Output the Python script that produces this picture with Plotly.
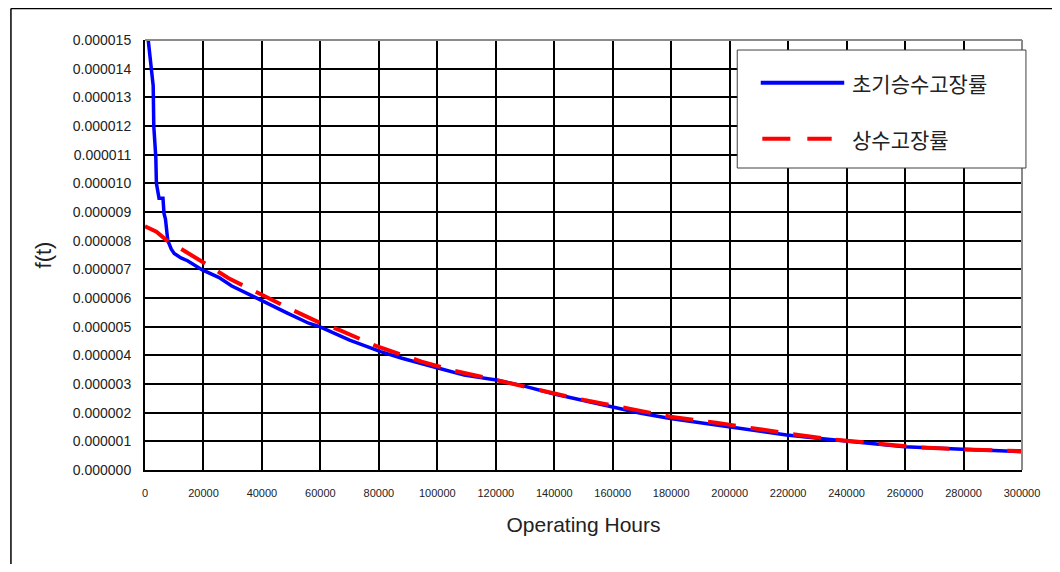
import plotly.graph_objects as go

# ---- data ----
hours_initial = [1100, 1900, 2800, 3000, 3700, 3900, 4500, 4800, 6150, 6500, 7000, 7800,
                 9000, 10000, 12300, 14550, 19600, 25200, 29700, 35300, 40000, 48700,
                 56000, 59700, 70000, 80600, 87900, 100500, 109200, 120200, 130400,
                 140000, 149500, 159900, 169600, 179700, 189800, 199700, 202100, 206600,
                 219500, 230100, 240000, 259800, 279700, 300000]
ft_initial = [15.0e-6, 14.3e-6, 13.4e-6, 12.0e-6, 10.9e-6, 10.0e-6, 9.6e-6, 9.48e-6, 9.48e-6,
              8.95e-6, 8.75e-6, 8.0e-6, 7.7e-6, 7.55e-6, 7.4e-6, 7.3e-6, 6.98e-6, 6.72e-6,
              6.42e-6, 6.16e-6, 5.91e-6, 5.47e-6, 5.12e-6, 5.0e-6, 4.53e-6, 4.13e-6, 3.90e-6,
              3.55e-6, 3.31e-6, 3.14e-6, 2.91e-6, 2.65e-6, 2.44e-6, 2.19e-6, 1.98e-6, 1.80e-6,
              1.65e-6, 1.51e-6, 1.45e-6, 1.40e-6, 1.22e-6, 1.11e-6, 1.02e-6, 0.81e-6, 0.72e-6,
              0.64e-6]

hours_const = [0, 3900, 7300, 15100, 20000, 28600, 35300, 43100, 49800, 59700, 66600, 79000,
               94600, 105800, 115900, 122600, 134900, 150200, 165200, 179700, 195400, 205000,
               219500, 234600, 249200, 264800, 279400, 300000]
ft_const = [8.5e-6, 8.31e-6, 8.02e-6, 7.56e-6, 7.24e-6, 6.69e-6, 6.34e-6, 5.95e-6, 5.61e-6,
            5.14e-6, 4.88e-6, 4.33e-6, 3.78e-6, 3.46e-6, 3.25e-6, 3.08e-6, 2.79e-6, 2.44e-6,
            2.15e-6, 1.86e-6, 1.65e-6, 1.49e-6, 1.28e-6, 1.07e-6, 0.93e-6, 0.79e-6, 0.72e-6,
            0.66e-6]

name_initial = "초기승수고장률"
name_const = "상수고장률"
x_title = "Operating Hours"
y_title = "f(t)"

FONT = "Arial, Liberation Sans, sans-serif"
KFONT = "Noto Sans CJK KR, sans-serif"

fig = go.Figure()
fig.add_trace(go.Scatter(x=hours_initial, y=ft_initial, mode="lines", name=name_initial,
                         line=dict(color="#0000FF", width=3.5)))
fig.add_trace(go.Scatter(x=hours_const, y=ft_const, mode="lines", name=name_const,
                         line=dict(color="#FF0000", width=4, dash="28px,15px")))

# figure fits inside the page's default 8px body margin
fig.update_layout(
    width=1044, height=556,
    margin=dict(l=137, r=14, t=32, b=94),
    paper_bgcolor="white", plot_bgcolor="white",
    showlegend=False,
    font=dict(family=FONT, color="#222222"),
)
fig.update_xaxes(
    range=[0, 300000], dtick=20000, tick0=0, tickformat="d",
    showgrid=True, gridcolor="black", gridwidth=1.5,
    showline=True, linecolor="black", linewidth=2,
    zeroline=False, ticks="", ticklabelstandoff=12, ticklabeloverflow="allow",
    tickfont=dict(size=11, family=FONT, color="#222222"),
    title=dict(text=x_title, font=dict(size=21, family=FONT, color="#222222"), standoff=19),
)
fig.update_yaxes(
    range=[0, 15e-6], dtick=1e-6, tick0=0, tickformat=".6f",
    showgrid=True, gridcolor="black", gridwidth=1.5,
    showline=True, linecolor="black", linewidth=2,
    zeroline=False, ticks="", ticklabelstandoff=9,
    tickfont=dict(size=14, family=FONT, color="#222222"),
    title=dict(text=y_title, font=dict(size=22, family=FONT, color="#222222"), standoff=15),
)

shapes = []
# grey top/right plot border
shapes.append(dict(type="line", xref="paper", yref="paper", x0=0, x1=1, y0=1, y1=1,
                   line=dict(color="#8a8a8a", width=2)))
shapes.append(dict(type="line", xref="paper", yref="paper", x0=1, x1=1, y0=0, y1=1,
                   line=dict(color="#8a8a8a", width=2)))
# outer chart frame (only left and top edges fall inside the picture)
shapes.append(dict(type="line", xref="paper", yref="paper", x0=-0.15286, x1=-0.15286,
                   y0=-0.3, y1=1.07326, line=dict(color="black", width=1.5)))
shapes.append(dict(type="line", xref="paper", yref="paper", x0=-0.15286, x1=1.1,
                   y0=1.07326, y1=1.07326, line=dict(color="black", width=1.5)))
# legend box
shapes.append(dict(type="rect", xref="paper", yref="paper", x0=0.6753, x1=1.0045,
                   y0=0.7023, y1=0.9767, line=dict(color="#404040", width=1),
                   fillcolor="white", layer="above"))
shapes.append(dict(type="line", xref="paper", yref="paper", x0=0.7021, x1=0.7973,
                   y0=0.9007, y1=0.9007, line=dict(color="#0000FF", width=4)))
shapes.append(dict(type="line", xref="paper", yref="paper", x0=0.7039, x1=0.7830,
                   y0=0.7705, y1=0.7705, line=dict(color="#FF0000", width=4, dash="28px,17px")))
fig.update_layout(shapes=shapes)

fig.add_annotation(xref="paper", yref="paper", x=0.8040, y=0.9007, xanchor="left",
                   yanchor="middle", text=name_initial, showarrow=False,
                   font=dict(size=21, family=KFONT, color="#222222"))
fig.add_annotation(xref="paper", yref="paper", x=0.8040, y=0.7705, xanchor="left",
                   yanchor="middle", text=name_const, showarrow=False,
                   font=dict(size=21, family=KFONT, color="#222222"))

fig.write_html("out.html", config={"displayModeBar": False})
